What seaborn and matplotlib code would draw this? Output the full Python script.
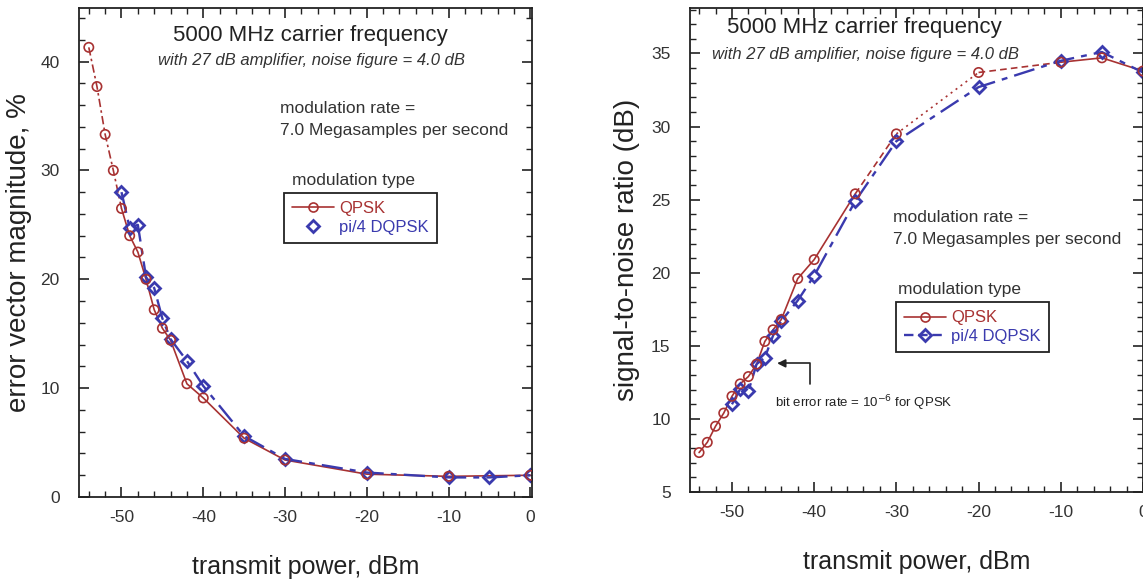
import pandas as pd
import matplotlib.pyplot as plt
import seaborn as sns
from matplotlib.lines import Line2D
from matplotlib.ticker import MultipleLocator

# dados
evm_qpsk_x = [-54, -53, -52, -51, -50, -49, -48, -47, -46, -45, -44, -42, -40, -35, -30, -20, -10, 0]
evm_qpsk_y = [41.3, 37.7, 33.3, 30.0, 26.5, 24.0, 22.5, 20.0, 17.2, 15.5, 14.4, 10.4, 9.1, 5.4, 3.4, 2.1, 1.9, 2.0]
evm_dqpsk_x = [-50, -49, -48, -47, -46, -45, -44, -42, -40, -35, -30, -20, -10, -5, 0]
evm_dqpsk_y = [28.0, 24.7, 25.0, 20.2, 19.2, 16.4, 14.5, 12.5, 10.2, 5.6, 3.5, 2.25, 1.8, 1.8, 2.0]

snr_qpsk_x = [-54, -53, -52, -51, -50, -49, -48, -47, -46, -45, -44, -42, -40, -35, -30, -20, -10, -5, 0]
snr_qpsk_y = [7.7, 8.4, 9.5, 10.4, 11.55, 12.4, 12.9, 13.75, 15.3, 16.1, 16.8, 19.6, 20.9, 25.4, 29.5, 33.7, 34.4, 34.7, 33.8]
snr_dqpsk_x = [-50, -49, -48, -47, -46, -45, -44, -42, -40, -35, -30, -20, -10, -5, 0]
snr_dqpsk_y = [11.0, 12.05, 11.9, 13.75, 14.2, 15.7, 16.7, 18.1, 19.8, 24.9, 29.0, 32.7, 34.5, 35.1, 33.7]

# trechos da curva QPSK com estilo de linha diferente (indice inicial, final, estilo)
DASHDOT = (0, (5, 2, 1.5, 2))
DASHED = (0, (4, 2.5))
DOTTED = (0, (1.2, 2.5))
evm_qpsk_segs = [(0, 4, DASHDOT), (4, 17, "-")]
snr_qpsk_segs = [(0, 13, "-"), (13, 14, DASHED), (14, 15, DOTTED), (15, 16, DASHED), (16, 18, "-")]

RED = "#a83232"
BLUE = "#3a3aae"

sns.set_theme(style="ticks")
plt.rcParams["font.family"] = ["Liberation Sans", "DejaVu Sans"]
plt.rcParams["xtick.direction"] = "in"
plt.rcParams["ytick.direction"] = "in"
plt.rcParams["axes.unicode_minus"] = False

fig = plt.figure(figsize=(11.43, 5.82), dpi=100)
ax1 = fig.add_axes([0.0691, 0.146, 0.3963, 0.840])
ax2 = fig.add_axes([0.6037, 0.1546, 0.3963, 0.8314])

dash_blue = (0, (9, 3, 2.5, 3))


def draw(ax, qx, qy, segs, dx, dy):
    df_q = pd.DataFrame({"x": qx, "y": qy})
    df_d = pd.DataFrame({"x": dx, "y": dy})
    for i0, i1, ls in segs:
        sns.lineplot(data=df_q.iloc[i0:i1 + 1], x="x", y="y", ax=ax, sort=False,
                     color=RED, lw=1.2, linestyle=ls)
    sns.scatterplot(data=df_q, x="x", y="y", ax=ax, marker="o", s=45,
                    facecolor="none", edgecolor=RED, linewidth=1.2, zorder=3)
    sns.lineplot(data=df_d, x="x", y="y", ax=ax, sort=False, color=BLUE, lw=1.7,
                 linestyle=dash_blue, marker="D", markersize=6.5, markerfacecolor="none",
                 markeredgecolor=BLUE, markeredgewidth=2.0)
    for sp in ax.spines.values():
        sp.set_color("#222222")
        sp.set_linewidth(1.3)
    ax.tick_params(which="both", top=True, right=True, colors="#222222", labelsize=12.5,
                   labelcolor="#333333")
    ax.tick_params(which="major", length=7, width=1.2)
    ax.tick_params(which="minor", length=4, width=1.0)
    ax.tick_params(axis="x", pad=9)
    ax.tick_params(axis="y", pad=14)
    ax.xaxis.set_major_locator(MultipleLocator(10))
    ax.xaxis.set_minor_locator(MultipleLocator(2))
    ax.set_xlabel("transmit power, dBm", fontsize=18, color="#222222", labelpad=22)


def notes(ax, tx, ty, sx, sy, mx, my1, my2, lx, ly):
    ax.text(tx, ty, "5000 MHz carrier frequency", transform=ax.transAxes,
            ha="center", va="center", fontsize=16, color="#222222")
    ax.text(sx, sy, "with 27 dB amplifier, noise figure = 4.0 dB", transform=ax.transAxes,
            ha="center", va="center", fontsize=12, style="italic", color="#333333")
    ax.text(mx, my1, "modulation rate =", transform=ax.transAxes,
            ha="left", va="center", fontsize=12.5, color="#333333")
    ax.text(mx, my2, "7.0 Megasamples per second", transform=ax.transAxes,
            ha="left", va="center", fontsize=12.5, color="#333333")
    ax.text(lx, ly, "modulation type", transform=ax.transAxes,
            ha="left", va="center", fontsize=12.5, color="#333333")


h_q = Line2D([], [], color=RED, lw=1.2, marker="o", markersize=6.5, mfc="none", mew=1.2)
h_d_marker = Line2D([], [], color=BLUE, lw=0, marker="D", markersize=6.5, mfc="none", mew=2.0)
h_d_line = Line2D([], [], color=BLUE, lw=1.7, linestyle=(0, (4, 2)), marker="D",
                  markersize=6.5, mfc="none", mew=2.0)


def legend(ax, handles, anchor):
    leg = ax.legend(handles, ["QPSK", "pi/4 DQPSK"], loc="upper left",
                    bbox_to_anchor=anchor, borderaxespad=0, fancybox=False,
                    fontsize=12, handlelength=2.5, handletextpad=0.3, labelspacing=0.2,
                    borderpad=0.5, edgecolor="#222222", framealpha=1)
    leg.get_frame().set_linewidth(1.3)
    for t, c in zip(leg.get_texts(), [RED, BLUE]):
        t.set_color(c)


# grafico da esquerda
draw(ax1, evm_qpsk_x, evm_qpsk_y, evm_qpsk_segs, evm_dqpsk_x, evm_dqpsk_y)
ax1.set_xlim(-55.2, 0.2)
ax1.set_ylim(0, 44.9)
ax1.yaxis.set_major_locator(MultipleLocator(10))
ax1.yaxis.set_minor_locator(MultipleLocator(2))
ax1.set_ylabel("error vector magnitude, %", fontsize=20, color="#222222", labelpad=6)
notes(ax1, 0.51, 0.945, 0.514, 0.892, 0.444, 0.795, 0.75, 0.47, 0.648)
legend(ax1, [h_q, h_d_marker], (0.4525, 0.622))

# grafico da direita
draw(ax2, snr_qpsk_x, snr_qpsk_y, snr_qpsk_segs, snr_dqpsk_x, snr_dqpsk_y)
ax2.set_xlim(-55.1, 0)
ax2.set_ylim(5, 38.1)
ax2.yaxis.set_major_locator(MultipleLocator(5))
ax2.yaxis.set_minor_locator(MultipleLocator(1))
ax2.set_ylabel("signal-to-noise ratio (dB)", fontsize=20, color="#222222", labelpad=8)
notes(ax2, 0.384, 0.959, 0.3875, 0.905, 0.448, 0.568, 0.521, 0.459, 0.419)
legend(ax2, [h_q, h_d_line], (0.455, 0.3926))

ax2.annotate("", xy=(-44.5, 13.8), xytext=(-40.5, 12.4),
             arrowprops=dict(arrowstyle="-|>", color="#222222", lw=1.2,
                             connectionstyle="angle,angleA=90,angleB=0,rad=0",
                             shrinkA=0, shrinkB=0))
ax2.text(-44.8, 11.05, "bit error rate = 10$^{-6}$ for QPSK", ha="left", va="center",
         fontsize=9.5, color="#222222")

fig.savefig("out.png", dpi=100)
